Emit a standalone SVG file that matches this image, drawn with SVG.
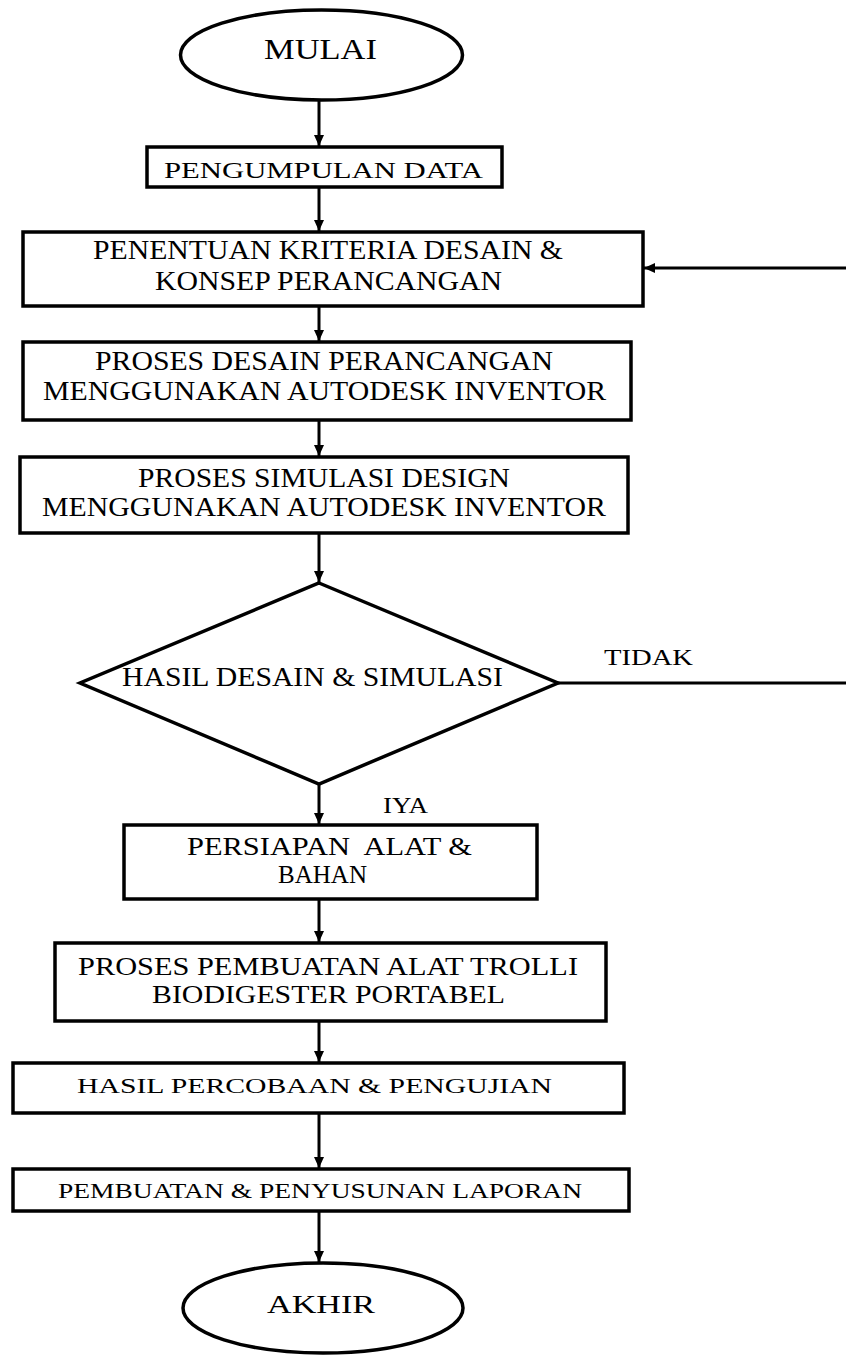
<svg xmlns="http://www.w3.org/2000/svg" width="846" height="1355" viewBox="0 0 846 1355">
<style>
.s{fill:#fff;stroke:#000;stroke-width:3.5}
.t{font-family:"Liberation Serif","Times New Roman",serif;fill:#000;white-space:pre}
.c{fill:none;stroke:#000;stroke-width:3}
</style>
<defs>
<marker id="ah" markerUnits="userSpaceOnUse" markerWidth="12" markerHeight="12" refX="11" refY="6" orient="auto">
<path d="M0,1 L11,6 L0,11 z" fill="#000"/>
</marker>
</defs>
<rect width="846" height="1355" fill="#fff"/>
<g id="connectors">
<line class="c" x1="319" y1="100" x2="319" y2="146" marker-end="url(#ah)"/>
<line class="c" x1="319" y1="188" x2="319" y2="231" marker-end="url(#ah)"/>
<line class="c" x1="319" y1="306" x2="319" y2="341" marker-end="url(#ah)"/>
<line class="c" x1="319" y1="420" x2="319" y2="456" marker-end="url(#ah)"/>
<line class="c" x1="319" y1="533" x2="319" y2="582" marker-end="url(#ah)"/>
<line class="c" x1="319" y1="784" x2="319" y2="824" marker-end="url(#ah)"/>
<line class="c" x1="319" y1="899" x2="319" y2="942" marker-end="url(#ah)"/>
<line class="c" x1="319" y1="1021" x2="319" y2="1062" marker-end="url(#ah)"/>
<line class="c" x1="319" y1="1113" x2="319" y2="1168" marker-end="url(#ah)"/>
<line class="c" x1="319" y1="1211" x2="319" y2="1262" marker-end="url(#ah)"/>
<path class="c" d="M558,683 L849,683 L849,268 L644,268" marker-end="url(#ah)"/>
<text class="t" x="604" y="665" font-size="24" textLength="89" lengthAdjust="spacingAndGlyphs">TIDAK</text>
<text class="t" x="383" y="813" font-size="24" textLength="45" lengthAdjust="spacingAndGlyphs">IYA</text>
</g>
<g id="mulai">
<ellipse class="s" cx="321.5" cy="55" rx="141" ry="45"/>
<text class="t" x="264" y="59" font-size="29" textLength="113" lengthAdjust="spacingAndGlyphs">MULAI</text>
</g>
<g id="pengumpulan">
<rect class="s" x="147" y="147" width="355" height="40"/>
<text class="t" x="164" y="178" font-size="24" textLength="319" lengthAdjust="spacingAndGlyphs">PENGUMPULAN DATA</text>
</g>
<g id="penentuan">
<rect class="s" x="23" y="232" width="620" height="74"/>
<text class="t" x="93" y="259" font-size="27" textLength="470" lengthAdjust="spacingAndGlyphs">PENENTUAN KRITERIA DESAIN &amp;</text>
<text class="t" x="155" y="290" font-size="27" textLength="347" lengthAdjust="spacingAndGlyphs">KONSEP PERANCANGAN</text>
</g>
<g id="desain">
<rect class="s" x="23" y="342" width="608" height="78"/>
<text class="t" x="95" y="370" font-size="27" textLength="458" lengthAdjust="spacingAndGlyphs">PROSES DESAIN PERANCANGAN</text>
<text class="t" x="43" y="400" font-size="27" textLength="563" lengthAdjust="spacingAndGlyphs">MENGGUNAKAN AUTODESK INVENTOR</text>
</g>
<g id="simulasi">
<rect class="s" x="20" y="457" width="608" height="76"/>
<text class="t" x="138" y="487" font-size="27" textLength="372" lengthAdjust="spacingAndGlyphs">PROSES SIMULASI DESIGN</text>
<text class="t" x="42" y="516" font-size="27" textLength="564" lengthAdjust="spacingAndGlyphs">MENGGUNAKAN AUTODESK INVENTOR</text>
</g>
<g id="keputusan">
<polygon class="s" points="319,583 558,683 319,784 80,683"/>
<text class="t" x="122" y="686" font-size="27" textLength="381" lengthAdjust="spacingAndGlyphs">HASIL DESAIN &amp; SIMULASI</text>
</g>
<g id="persiapan">
<rect class="s" x="124" y="825" width="413" height="74"/>
<text class="t" x="187" y="855" font-size="25" textLength="285" lengthAdjust="spacingAndGlyphs">PERSIAPAN  ALAT &amp;</text>
<text class="t" x="278" y="883" font-size="25" textLength="89" lengthAdjust="spacingAndGlyphs">BAHAN</text>
</g>
<g id="pembuatan-alat">
<rect class="s" x="55" y="943" width="551" height="78"/>
<text class="t" x="78" y="975" font-size="25" textLength="500" lengthAdjust="spacingAndGlyphs">PROSES PEMBUATAN ALAT TROLLI</text>
<text class="t" x="152" y="1003" font-size="25" textLength="353" lengthAdjust="spacingAndGlyphs">BIODIGESTER PORTABEL</text>
</g>
<g id="percobaan">
<rect class="s" x="13" y="1063" width="611" height="50"/>
<text class="t" x="77" y="1093" font-size="22" textLength="475" lengthAdjust="spacingAndGlyphs">HASIL PERCOBAAN &amp; PENGUJIAN</text>
</g>
<g id="laporan">
<rect class="s" x="13" y="1169" width="616" height="42"/>
<text class="t" x="58" y="1198" font-size="22" textLength="524" lengthAdjust="spacingAndGlyphs">PEMBUATAN &amp; PENYUSUNAN LAPORAN</text>
</g>
<g id="akhir">
<ellipse class="s" cx="323" cy="1308" rx="140" ry="45"/>
<text class="t" x="267" y="1313" font-size="26" textLength="108" lengthAdjust="spacingAndGlyphs">AKHIR</text>
</g>
</svg>
